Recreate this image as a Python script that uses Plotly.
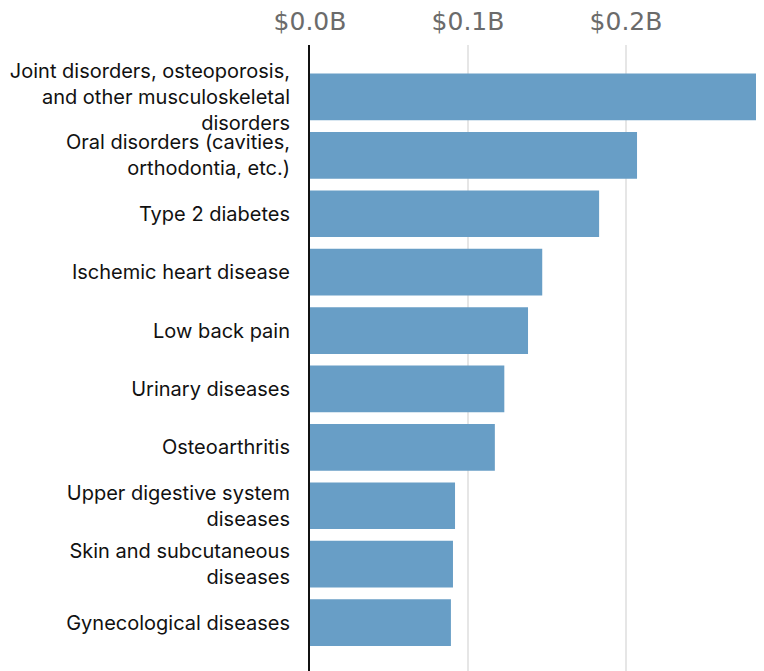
import plotly.graph_objects as go

categories = [
    "Joint disorders, osteoporosis,<br>and other musculoskeletal<br>disorders",
    "Oral disorders (cavities,<br>orthodontia, etc.)",
    "Type 2 diabetes",
    "Ischemic heart disease",
    "Low back pain",
    "Urinary diseases",
    "Osteoarthritis",
    "Upper digestive system<br>diseases",
    "Skin and subcutaneous<br>diseases",
    "Gynecological diseases",
]
values = [0.285, 0.207, 0.183, 0.147, 0.138, 0.123, 0.117, 0.0918, 0.0905, 0.0892]
tick_vals = [0.0, 0.1, 0.2]
tick_text = ["$0.0B", "$0.1B", "$0.2B"]

fig = go.Figure(go.Bar(
    x=values, y=categories, orientation="h",
    marker=dict(color="#689ec6", line=dict(width=0)),
    width=0.8,
    hoverinfo="skip",
))

fig.update_layout(
    width=756, height=663,
    margin=dict(l=302, r=5, t=37, b=0),
    plot_bgcolor="white", paper_bgcolor="white",
    showlegend=False,
    xaxis=dict(
        side="top", range=[0, 0.2842],
        tickvals=tick_vals, ticktext=tick_text,
        tickfont=dict(family="DejaVu Sans", size=25, color="#6b6b6b"),
        showgrid=True, gridcolor="#e6e6e6", gridwidth=1.5,
        zeroline=False, showline=False,
        ticks="outside", ticklen=4, tickcolor="rgba(0,0,0,0)",
        automargin=False,
        fixedrange=True,
    ),
    yaxis=dict(
        range=[9.83, -0.89],
        tickfont=dict(family="Inter", size=20, color="#111111"),
        showgrid=False, zeroline=False,
        showline=True, linecolor="#111111", linewidth=2,
        ticks="outside", ticklen=14, tickcolor="rgba(0,0,0,0)",
        automargin=False,
        fixedrange=True,
    ),
    bargap=0.2,
)

fig.write_html("out.html")
